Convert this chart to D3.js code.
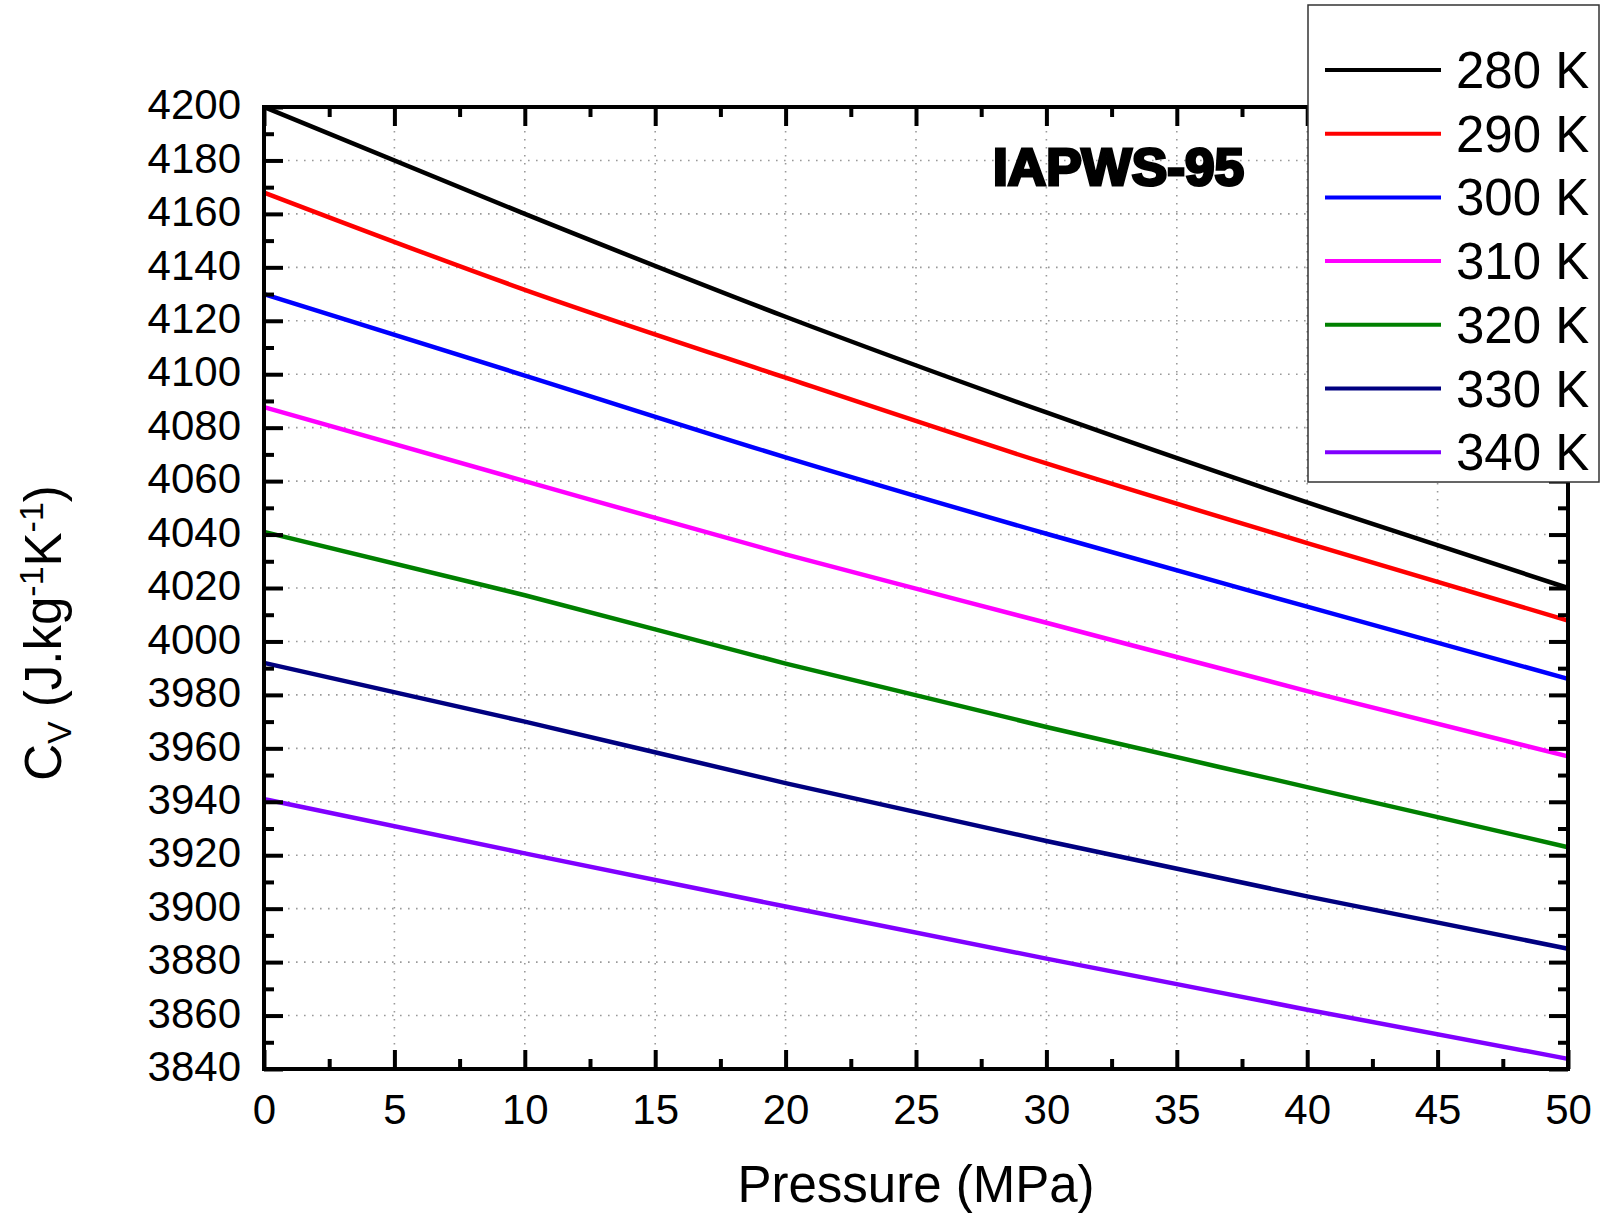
<!DOCTYPE html>
<head>
  <meta charset="utf-8">
  <title>Cv vs Pressure</title>
  <script src="https://cdn.jsdelivr.net/npm/d3@7"></script>
  <style>
    body { margin: 0; background: #fff; }
    text { font-family: "Liberation Sans", Arial, sans-serif; fill: #000; }
  </style>
</head>

<body>
  <script type="text/javascript">
    var WIDTH = 1602;
    var HEIGHT = 1216;

    //===========data
    var pressure = [0, 10, 20, 30, 40, 50];
    var temps = ["280 K", "290 K", "300 K", "310 K", "320 K", "330 K", "340 K"];
    var colors = ["#000000", "#ff0000", "#0000ff", "#ff00ff", "#008000", "#000080", "#8000ff"];

    var cv280 = [4200.0, 4160.0, 4121.5, 4085.7, 4052.0, 4020.0];
    var cv290 = [4168.0, 4131.6, 4098.7, 4066.6, 4036.8, 4007.8];
    var cv300 = [4130.0, 4099.5, 4068.9, 4040.3, 4013.0, 3986.0];
    var cv310 = [4087.7, 4060.0, 4032.6, 4007.0, 3981.4, 3957.0];
    var cv320 = [4041.0, 4017.3, 3991.7, 3968.0, 3945.5, 3923.0];
    var cv330 = [3992.0, 3970.0, 3947.0, 3925.3, 3904.6, 3885.0];
    var cv340 = [3941.0, 3920.7, 3900.8, 3881.3, 3862.2, 3843.8];
    var allSeries = [cv280, cv290, cv300, cv310, cv320, cv330, cv340];

    var xMajor = d3.range(0, 51, 5);
    var xMinor = d3.range(2.5, 50, 5);
    var yMajor = d3.range(3840, 4201, 20);
    var yMinor = d3.range(3850, 4200, 20);

    var LEFT = 264, RIGHT = 1568, TOP = 107, BOTTOM = 1069;

    var svg = d3.select("body").append("svg")
                .attr("width", WIDTH)
                .attr("height", HEIGHT);

    var x = d3.scaleLinear().domain([0, 50]).range([LEFT, RIGHT]);
    var y = d3.scaleLinear().domain([3840, 4200]).range([BOTTOM, TOP]);

    //============grid
    var grid = svg.append("g")
                  .attr("stroke", "#999")
                  .attr("stroke-width", 1.6)
                  .attr("stroke-dasharray", "1.6,6.4");
    grid.selectAll(".gx")
      .data(xMajor.slice(1, -1))
      .enter().append("line")
      .attr("x1", function(d){ return x(d); })
      .attr("x2", function(d){ return x(d); })
      .attr("y1", TOP).attr("y2", BOTTOM);
    grid.selectAll(".gy")
      .data(yMajor.slice(1, -1))
      .enter().append("line")
      .attr("y1", function(d){ return y(d); })
      .attr("y2", function(d){ return y(d); })
      .attr("x1", LEFT).attr("x2", RIGHT);

    //============lines
    var line = d3.line()
                 .x(function(d, i){ return x(pressure[i]); })
                 .y(function(d){ return y(d); })
                 .curve(d3.curveMonotoneX);

    svg.selectAll(".series")
      .data(allSeries)
      .enter().append("path")
      .attr("d", line)
      .attr("fill", "none")
      .attr("stroke-width", 4.5)
      .attr("stroke", function(d, i){ return colors[i]; });

    //============axes (ticks point inward on all sides)
    function styleAxis(g){
      g.select(".domain").remove();
      g.selectAll(".tick line").attr("stroke", "#000").attr("stroke-width", 4);
      g.selectAll("text").style("font-size", "42px").attr("fill", "#000");
    }

    svg.append("g").attr("transform", "translate(0," + BOTTOM + ")")
       .call(d3.axisBottom(x).tickValues(xMajor).tickSize(-19).tickPadding(25).tickFormat(d3.format("d")))
       .call(styleAxis);
    svg.append("g").attr("transform", "translate(0," + BOTTOM + ")")
       .call(d3.axisBottom(x).tickValues(xMinor).tickSize(-10).tickFormat(""))
       .call(styleAxis);
    svg.append("g").attr("transform", "translate(0," + TOP + ")")
       .call(d3.axisTop(x).tickValues(xMajor).tickSize(-19).tickFormat(""))
       .call(styleAxis);
    svg.append("g").attr("transform", "translate(0," + TOP + ")")
       .call(d3.axisTop(x).tickValues(xMinor).tickSize(-10).tickFormat(""))
       .call(styleAxis);

    svg.append("g").attr("transform", "translate(" + LEFT + ",0)")
       .call(d3.axisLeft(y).tickValues(yMajor).tickSize(-19).tickPadding(23).tickFormat(d3.format("d")))
       .call(styleAxis)
       .selectAll("text").attr("dy", "0.28em");
    svg.append("g").attr("transform", "translate(" + LEFT + ",0)")
       .call(d3.axisLeft(y).tickValues(yMinor).tickSize(-10).tickFormat(""))
       .call(styleAxis);
    svg.append("g").attr("transform", "translate(" + RIGHT + ",0)")
       .call(d3.axisRight(y).tickValues(yMajor).tickSize(-19).tickFormat(""))
       .call(styleAxis);
    svg.append("g").attr("transform", "translate(" + RIGHT + ",0)")
       .call(d3.axisRight(y).tickValues(yMinor).tickSize(-10).tickFormat(""))
       .call(styleAxis);

    svg.append("rect")
       .attr("x", LEFT).attr("y", TOP)
       .attr("width", RIGHT - LEFT).attr("height", BOTTOM - TOP)
       .attr("fill", "none")
       .attr("stroke", "#000")
       .attr("stroke-width", 4);

    //============titles
    svg.append("text")
       .attr("x", (LEFT + RIGHT) / 2)
       .attr("y", 1202)
       .attr("text-anchor", "middle")
       .style("font-size", "51px")
       .text("Pressure (MPa)");

    var yTitle = svg.append("text")
       .attr("transform", "translate(61,633) rotate(-90)")
       .attr("text-anchor", "middle")
       .style("font-size", "51px");
    yTitle.append("tspan").text("C");
    yTitle.append("tspan").style("font-size", "34px").attr("dy", 10).text("V");
    yTitle.append("tspan").attr("dy", -10).text(" (J.kg");
    yTitle.append("tspan").style("font-size", "34px").attr("dy", -18).text("-1");
    yTitle.append("tspan").attr("dy", 18).text("K");
    yTitle.append("tspan").style("font-size", "34px").attr("dy", -18).text("-1");
    yTitle.append("tspan").attr("dy", 18).text(")");

    svg.append("text")
       .attr("x", 993)
       .attr("y", 185)
       .attr("textLength", 251)
       .attr("lengthAdjust", "spacingAndGlyphs")
       .style("font-size", "51px")
       .style("font-weight", "bold")
       .attr("stroke", "#000")
       .attr("stroke-width", 3)
       .text("IAPWS-95");

    //============legend
    var legend = svg.append("g");
    legend.append("rect")
      .attr("x", 1308).attr("y", 5)
      .attr("width", 291).attr("height", 477)
      .attr("fill", "#fff")
      .attr("stroke", "#333")
      .attr("stroke-width", 1.5);

    var items = legend.selectAll(".item")
      .data(temps)
      .enter().append("g")
      .attr("transform", function(d, i){ return "translate(0," + (70 + i * 63.7) + ")"; });
    items.append("line")
      .attr("x1", 1325).attr("x2", 1441)
      .attr("y1", 0).attr("y2", 0)
      .attr("stroke-width", 4)
      .attr("stroke", function(d, i){ return colors[i]; });
    items.append("text")
      .attr("x", 1456)
      .attr("dy", 18)
      .style("font-size", "51px")
      .text(function(d){ return d; });
  </script>
</body>
